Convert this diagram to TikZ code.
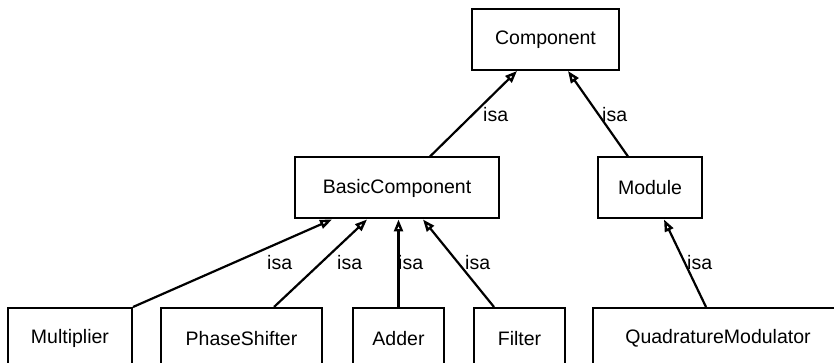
\documentclass[tikz,border=0pt]{standalone}
\usepackage{fontspec}
\setmainfont{Liberation Sans}
\usetikzlibrary{arrows.meta}
\begin{document}
\begin{tikzpicture}[x=1pt,y=1pt,
  cls/.style={draw=black, line width=2pt, fill=white, inner sep=0pt, minimum height=61pt, font=\fontsize{19.5}{22}\selectfont},
  lbl/.style={inner sep=0pt, font=\fontsize{19.5}{22}\selectfont},
  isa/.style={line width=2.2pt, -{Triangle[open, length=12pt, width=9pt, line width=2.4pt]}}]
\useasboundingbox (0,0) rectangle (834,363);
\begin{scope}
\clip (0,0) rectangle (834,363);
\node[cls, minimum width=147pt] (comp) at (545.5,323.5) {Component};
\node[cls, minimum width=204pt] (basic) at (397,175) {BasicComponent};
\node[cls, minimum width=104pt] (mod) at (650,175) {Module};
\node[cls, minimum width=124pt] (mult) at (70,24.5) {Multiplier};
\node[cls, minimum width=161pt] (phase) at (241.5,24.5) {PhaseShifter};
\node[cls, minimum width=91pt] (adder) at (398.5,24.5) {Adder};
\node[cls, minimum width=91pt] (filter) at (519.5,24.5) {Filter};
\node[cls, minimum width=250pt] (quad) at (718,24.5) {QuadratureModulator};

\draw[isa] ([xshift=33pt]basic.north) -- ([xshift=-28.5pt]comp.south);
\draw[isa] ([xshift=-22pt]mod.north) -- ([xshift=22.5pt]comp.south);
\draw[isa] (mult.north east) -- ([xshift=-65pt]basic.south);
\draw[isa] ([xshift=32.5pt]phase.north) -- ([xshift=-30pt]basic.south);
\draw[isa] (adder.north) -- (adder.north |- basic.south);
\draw[isa] ([xshift=-25.5pt]filter.north) -- ([xshift=26pt]basic.south);
\draw[isa] ([xshift=-12pt]quad.north) -- ([xshift=14pt]mod.south);

\node[lbl, anchor=west] (l1) at (483,248) {isa};
\node[lbl, anchor=west] (l2) at (602,248) {isa};
\node[lbl, anchor=west] (l3) at (267,100) {isa};
\node[lbl, anchor=west] (l4) at (337,100) {isa};
\node[lbl, anchor=west] (l5) at (398,100) {isa};
\node[lbl, anchor=west] (l6) at (465,100) {isa};
\node[lbl, anchor=west] (l7) at (687,100) {isa};
\end{scope}
\end{tikzpicture}
\end{document}
